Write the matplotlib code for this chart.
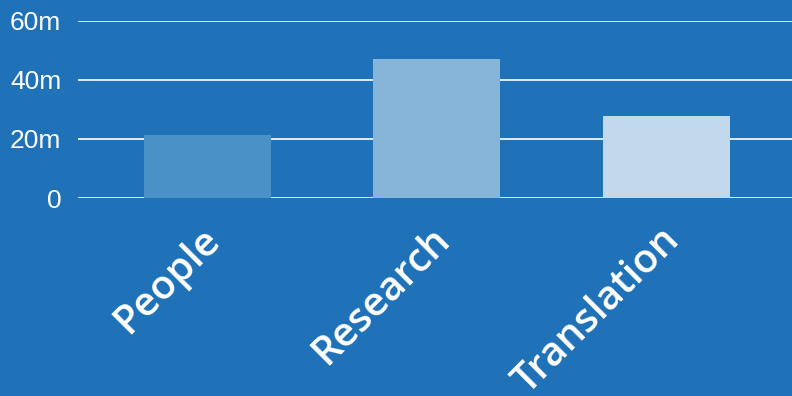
import matplotlib
matplotlib.use("Agg")
import matplotlib.pyplot as plt
import matplotlib.transforms as mtransforms
from matplotlib.ticker import FuncFormatter

# data (millions)
categories = ["People", "Research", "Translation"]
values = [21.4, 47.1, 27.8]
bar_colors = ["#4a91c8", "#86b5d9", "#c2d9ed"]
y_ticks = [0, 20, 40, 60]

bg = "#1f71b8"

fig = plt.figure(figsize=(7.92, 3.96), dpi=100)
fig.patch.set_facecolor(bg)
ax = fig.add_axes([0.0985, 0.5, 0.9015, 0.447])
ax.set_facecolor(bg)

x = list(range(len(categories)))
ax.bar(x, values, width=0.553, color=bar_colors, zorder=3)

ax.set_xlim(-0.564, 2.547)
ax.set_ylim(0, 60)
ax.set_yticks(y_ticks)
ax.yaxis.set_major_formatter(FuncFormatter(lambda v, p: "0" if v == 0 else "%dm" % v))
ax.grid(axis="y", color="white", linewidth=1.2, zorder=1)
ax.set_axisbelow(True)

for s in ax.spines.values():
    s.set_visible(False)

ax.tick_params(axis="y", length=0, pad=12, labelcolor="white")
for lab in ax.get_yticklabels():
    lab.set_fontfamily("Liberation Sans")
    lab.set_fontsize(19)

ax.set_xticks(x)
ax.set_xticklabels(categories, rotation=45, ha="right", va="center",
                   rotation_mode="anchor", color="white",
                   fontsize=29, fontfamily="Open Sans", fontweight="semibold")
ax.tick_params(axis="x", length=0, pad=26)
# nudge rotated labels a little to the right
shift = mtransforms.ScaledTranslation(7 / 100, 0, fig.dpi_scale_trans)
for lab in ax.get_xticklabels():
    lab.set_transform(lab.get_transform() + shift)

fig.savefig("out.png", dpi=100, facecolor=bg)
